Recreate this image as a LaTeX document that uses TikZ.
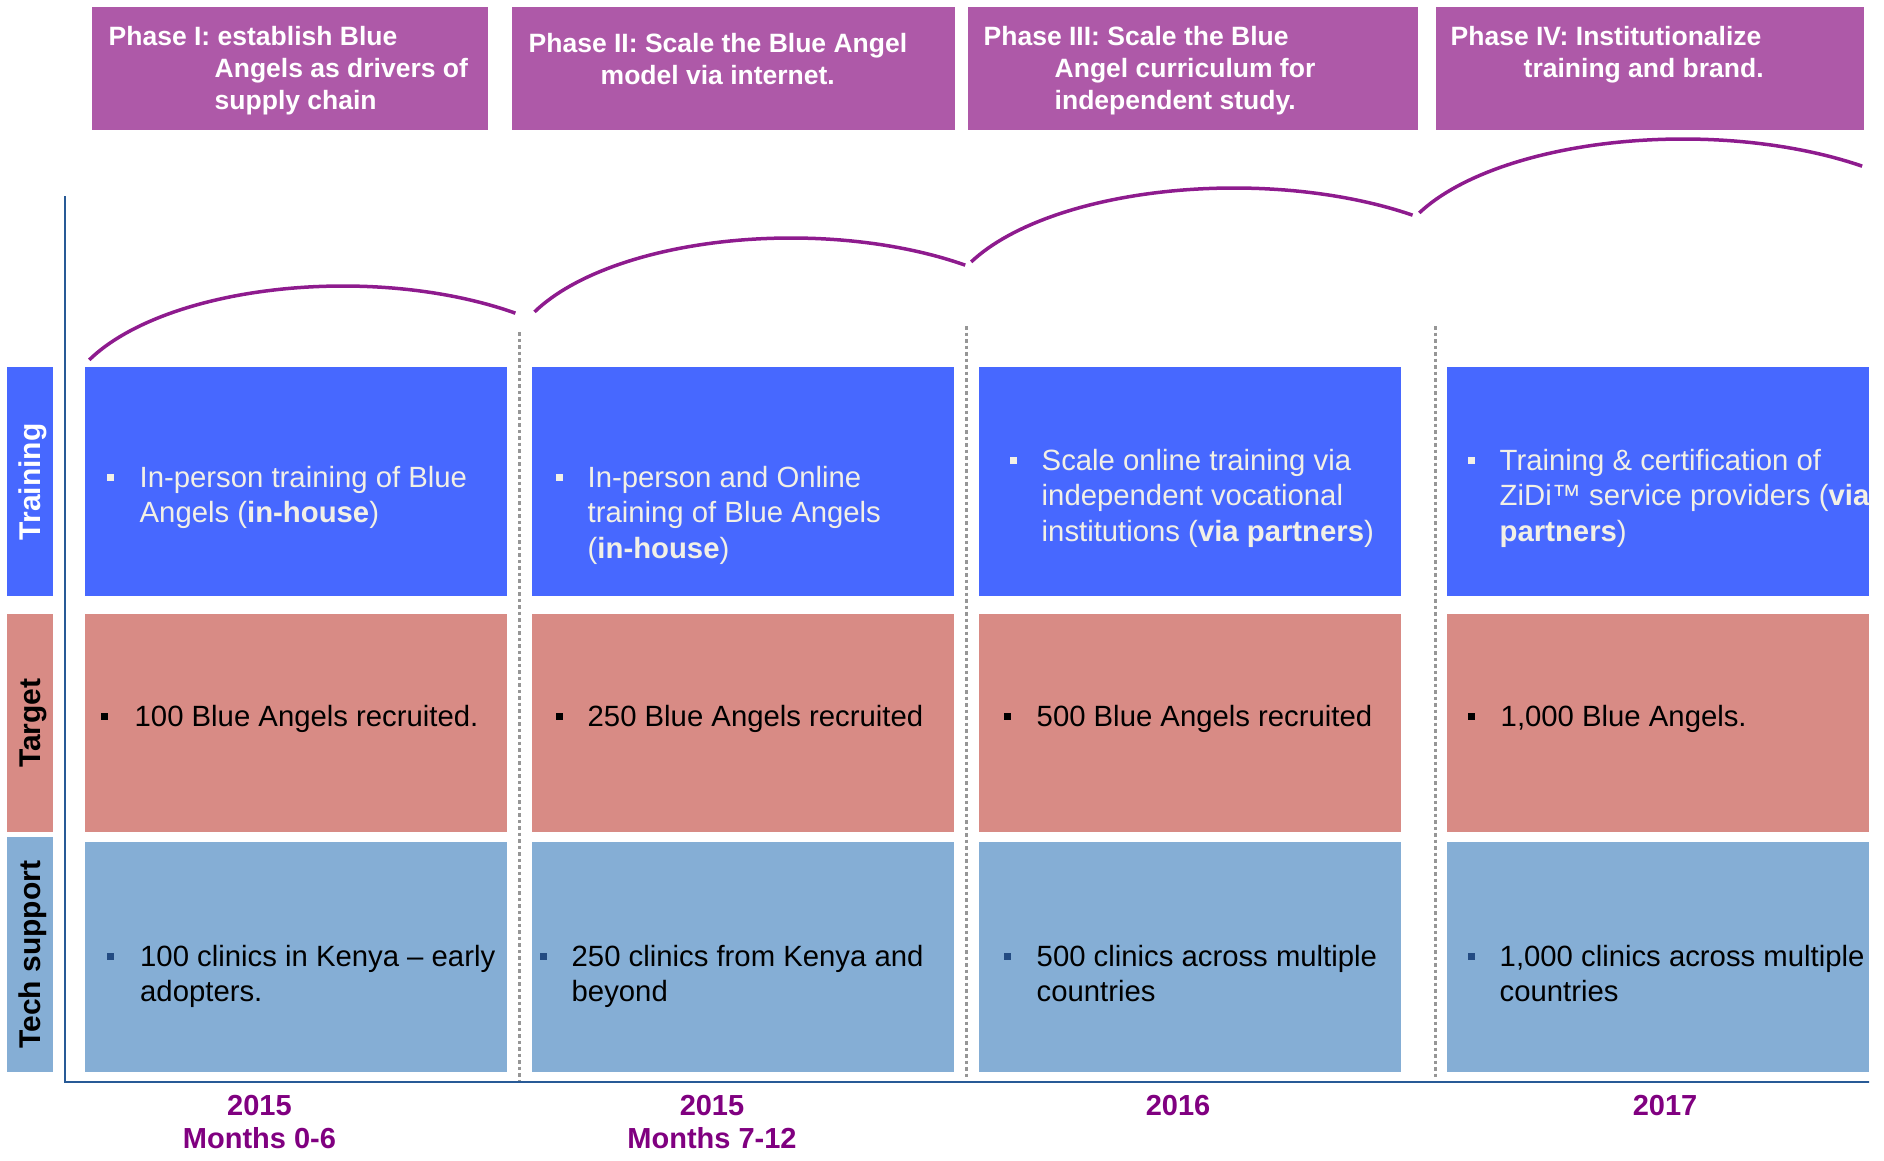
\documentclass[tikz,border=0pt]{standalone}
\usepackage{fontspec}
\setmainfont{Liberation Sans}
\definecolor{phasecol}{RGB}{174,89,168}
\definecolor{traincol}{RGB}{71,104,255}
\definecolor{targetcol}{RGB}{216,139,133}
\definecolor{techcol}{RGB}{133,174,213}
\definecolor{arccol}{RGB}{142,27,142}
\definecolor{timecol}{RGB}{128,0,128}
\definecolor{axiscol}{RGB}{40,90,150}
\definecolor{sepcol}{RGB}{150,150,150}
\definecolor{techbul}{RGB}{35,75,130}
\definecolor{traintxt}{RGB}{242,240,230}
\newcommand\myphase{\fontsize{26.5}{32}\selectfont\bfseries}
\newcommand\mybody{\fontsize{29.3}{35.3}\selectfont}
\newcommand\mytarget{\fontsize{29.3}{35.3}\selectfont}
\newcommand\mylabel{\fontsize{30}{32}\selectfont\bfseries}
\newcommand\mytime{\fontsize{29}{33}\selectfont\bfseries}
\begin{document}
\begin{tikzpicture}[x=1pt,y=-1pt,
  cellbox/.style={rectangle, inner sep=0, draw=none, anchor=north west},
  phasebox/.style={cellbox, fill=phasecol, minimum height=123pt},
  trainbox/.style={cellbox, fill=traincol, minimum width=422pt, minimum height=229pt},
  targetbox/.style={cellbox, fill=targetcol, minimum width=422pt, minimum height=218pt},
  techbox/.style={cellbox, fill=techcol, minimum width=422pt, minimum height=230pt},
  labbox/.style={cellbox, minimum width=46pt},
  bul/.style={rectangle, inner sep=0, minimum size=7pt},
  txt/.style={inner sep=0, anchor=base west},
  labtxt/.style={inner sep=0, rotate=90, font=\mylabel},
  timetxt/.style={inner sep=0, anchor=base, text=timecol},
  arcline/.style={draw=arccol, line width=3.5pt},
  sepline/.style={draw=sepcol, line width=3pt, dash pattern=on 3.5pt off 3pt},
  axisline/.style={draw=axiscol, line width=2.5pt}
]
\useasboundingbox (0,0) rectangle (1884,1160);
\begin{scope}
\clip (0,0) rectangle (1869,1160);

% phase boxes
\node[phasebox, minimum width=396pt] (p1) at (92,7) {};
\node[phasebox, minimum width=443pt] (p2) at (512,7) {};
\node[phasebox, minimum width=450pt] (p3) at (968,7) {};
\node[phasebox, minimum width=428pt] (p4) at (1436,7) {};
\node[txt, text=white] (p1t) at (108.5,45) {\parbox[t]{380pt}{\myphase Phase I: establish Blue\\\hspace*{106pt}Angels as drivers of\\\hspace*{106pt}supply chain}};
\node[txt, text=white] (p2t) at (528.5,52) {\parbox[t]{420pt}{\myphase Phase II: Scale the Blue Angel\\\hspace*{72pt}model via internet.}};
\node[txt, text=white] (p3t) at (983.5,45) {\parbox[t]{430pt}{\myphase Phase III: Scale the Blue\\\hspace*{71pt}Angel curriculum for\\\hspace*{71pt}independent study.}};
\node[txt, text=white] (p4t) at (1450.5,45) {\parbox[t]{410pt}{\myphase Phase IV: Institutionalize\\\hspace*{73pt}training and brand.}};

% arcs
\draw[arcline] plot[domain=155:52, samples=60] ({343+280*cos(\x)},{414-128*sin(\x)});
\draw[arcline] plot[domain=155:52, samples=60] ({791+283*cos(\x)},{366-128*sin(\x)});
\draw[arcline] plot[domain=155:52, samples=60] ({1234+290*cos(\x)},{316-128*sin(\x)});
\draw[arcline] plot[domain=155:52, samples=60] ({1683+291*cos(\x)},{267-128*sin(\x)});

% separators
\coordinate (s1t) at (519,332); \coordinate (s1b) at (519,1080);
\coordinate (s2t) at (966,326); \coordinate (s2b) at (966,1080);
\coordinate (s3t) at (1435,326); \coordinate (s3b) at (1435,1080);
\draw[sepline] (s1t) -- (s1b);
\draw[sepline] (s2t) -- (s2b);
\draw[sepline] (s3t) -- (s3b);

% axes
\coordinate (axtop) at (65,196);
\coordinate (axorig) at (65,1082);
\coordinate (axend) at (1884,1082);
\draw[axisline] (axtop) -- (axorig) -- (axend);

% row labels
\node[labbox, fill=traincol, minimum height=229pt] (ltrain) at (7,367) {};
\node[labbox, fill=targetcol, minimum height=218pt] (ltarget) at (7,614) {};
\node[labbox, fill=techcol, minimum height=235pt] (ltech) at (7,837) {};
\node[labtxt, text=white] (ltraint) at ([xshift=3pt]ltrain.center) {Training};
\node[labtxt, text=black] (ltargett) at ([xshift=3pt]ltarget.center) {Target};
\node[labtxt, text=black] (ltecht) at ([xshift=3pt]ltech.center) {Tech support};

% training row
\node[trainbox] (tr1) at (85,367) {};
\node[trainbox] (tr2) at (532,367) {};
\node[trainbox] (tr3) at (979,367) {};
\node[trainbox] (tr4) at (1447,367) {};
\node[bul, fill=traintxt] (btr1) at (110.5,477) {};
\node[bul, fill=traintxt] (btr2) at (559,477) {};
\node[bul, fill=traintxt] (btr3) at (1013,460) {};
\node[bul, fill=traintxt] (btr4) at (1471,460) {};
\node[txt, text=traintxt] (ttr1) at (139.5,487.4) {\parbox[t]{420pt}{\mybody In-person training of Blue\\Angels (\textbf{in-house})}};
\node[txt, text=traintxt] (ttr2) at (587.5,487.4) {\parbox[t]{420pt}{\mybody In-person and Online\\training of Blue Angels\\(\textbf{in-house})}};
\node[txt, text=traintxt] (ttr3) at (1041.5,470.4) {\parbox[t]{420pt}{\mybody Scale online training via\\independent vocational\\institutions (\textbf{via partners})}};
\node[txt, text=traintxt] (ttr4) at (1499.5,470.4) {\parbox[t]{420pt}{\mybody Training \& certification of\\ZiDi™ service providers (\textbf{via}\\\textbf{partners})}};

% target row
\node[targetbox] (tg1) at (85,614) {};
\node[targetbox] (tg2) at (532,614) {};
\node[targetbox] (tg3) at (979,614) {};
\node[targetbox] (tg4) at (1447,614) {};
\node[bul, fill=black] (btg1) at (104.5,716) {};
\node[bul, fill=black] (btg2) at (559,716) {};
\node[bul, fill=black] (btg3) at (1007,716) {};
\node[bul, fill=black] (btg4) at (1471,716) {};
\node[txt] (ttg1) at (134.5,726.4) {\parbox[t]{420pt}{\mytarget 100 Blue Angels recruited.}};
\node[txt] (ttg2) at (587.5,726.4) {\parbox[t]{420pt}{\mytarget 250 Blue Angels recruited}};
\node[txt] (ttg3) at (1036.5,726.4) {\parbox[t]{420pt}{\mytarget 500 Blue Angels recruited}};
\node[txt] (ttg4) at (1500.5,726.4) {\parbox[t]{420pt}{\mytarget 1,000 Blue Angels.}};

% tech row
\node[techbox] (te1) at (85,842) {};
\node[techbox] (te2) at (532,842) {};
\node[techbox] (te3) at (979,842) {};
\node[techbox] (te4) at (1447,842) {};
\node[bul, fill=techbul] (bte1) at (110.5,956) {};
\node[bul, fill=techbul] (bte2) at (543,956) {};
\node[bul, fill=techbul] (bte3) at (1007,956) {};
\node[bul, fill=techbul] (bte4) at (1471,956) {};
\node[txt] (tte1) at (140,966) {\parbox[t]{420pt}{\mybody 100 clinics in Kenya – early\\adopters.}};
\node[txt] (tte2) at (571.5,966) {\parbox[t]{420pt}{\mybody 250 clinics from Kenya and\\beyond}};
\node[txt] (tte3) at (1036.5,966) {\parbox[t]{420pt}{\mybody 500 clinics across multiple\\countries}};
\node[txt] (tte4) at (1499.5,966) {\parbox[t]{420pt}{\mybody 1,000 clinics across multiple\\countries}};

% time labels
\node[timetxt] (y1) at (259.5,1115) {\parbox[t]{300pt}{\centering\mytime 2015\\Months 0-6}};
\node[timetxt] (y2) at (712,1115) {\parbox[t]{300pt}{\centering\mytime 2015\\Months 7-12}};
\node[timetxt] (y3) at (1178,1115) {\parbox[t]{300pt}{\centering\mytime 2016}};
\node[timetxt] (y4) at (1665,1115) {\parbox[t]{300pt}{\centering\mytime 2017}};
\end{scope}
\end{tikzpicture}
\end{document}
